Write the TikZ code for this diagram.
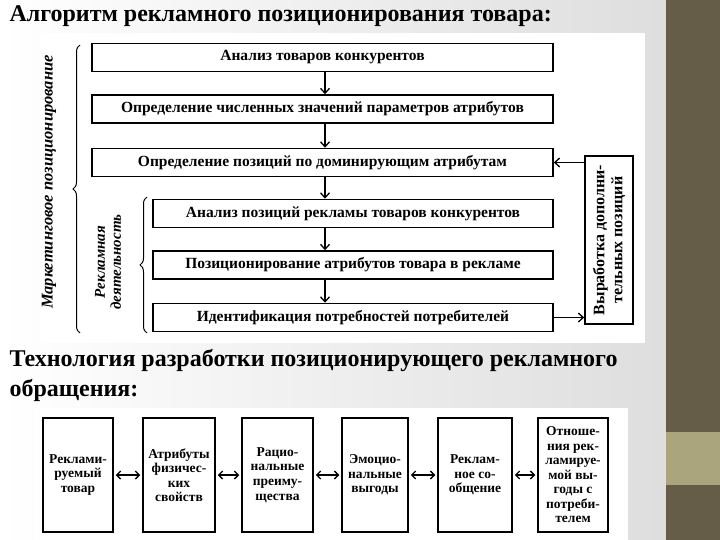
\documentclass[tikz,border=0pt]{standalone}
\usepackage{fontspec}
\setmainfont{Liberation Serif}
\usetikzlibrary{arrows.meta,positioning,decorations.pathreplacing}
\definecolor{olive}{RGB}{101,93,72}
\definecolor{khaki}{RGB}{170,165,124}

\begin{document}
\begin{tikzpicture}[x=1pt,y=-1pt,
  stepbox/.style={draw,line width=1.5pt,fill=white,minimum height=28pt,inner sep=2pt,
              font=\fontsize{15.5}{17}\selectfont\bfseries},
  cellbox/.style={draw,line width=1.5pt,fill=white,minimum height=114pt,inner sep=1pt,
              align=center,font=\fontsize{13.5}{14.5}\selectfont\bfseries},
  arr/.style={-{Straight Barb[length=5pt,width=9pt]},line width=1.3pt},
  darr/.style={{Straight Barb[length=4pt,width=8pt]}-{Straight Barb[length=4pt,width=8pt]},
              line width=1.3pt,shorten <=2pt,shorten >=2pt},
  brc/.style={decorate,decoration={brace,amplitude=7pt},line width=1pt},
  head/.style={anchor=west,font=\fontsize{24}{30}\selectfont\bfseries,align=left}]
  % background
  \shade[left color=white,right color=black!13] (0,0) rectangle (666,540);
  \fill[olive] (666,0) rectangle (720,540);
  \fill[khaki] (666,432) rectangle (720,485);
  \fill[white] (40,33) rectangle (645,343);
  \fill[white] (35,408) rectangle (628,540);
  \useasboundingbox (0,0) rectangle (720,540);

  % headings
  \node[head] (t1) at (6,16) {Алгоритм рекламного позиционирования товара:};
  \node[head] (t2) at (6,375) {Технология разработки позиционирующего рекламного\\обращения:};

  % algorithm steps
  \coordinate (ax) at (325,0);
  \node[stepbox,minimum width=461pt] (b1) at (322.5,57.5) {Анализ товаров конкурентов};
  \node[stepbox,minimum width=461pt] (b2) at (322.5,109) {Определение численных значений параметров атрибутов};
  \node[stepbox,minimum width=461pt] (b3) at (322.5,162.5) {Определение позиций по доминирующим атрибутам};
  \node[stepbox,minimum width=400pt] (b4) at (353,213.5) {Анализ позиций рекламы товаров конкурентов};
  \node[stepbox,minimum width=400pt] (b5) at (353,265) {Позиционирование атрибутов товара в рекламе};
  \node[stepbox,minimum width=400pt] (b6) at (353,317.5) {Идентификация потребностей потребителей};
  \node[draw,line width=1.5pt,fill=white,minimum width=168pt,minimum height=48pt,
        rotate=90,align=center,inner sep=1pt,font=\fontsize{16}{18}\selectfont\bfseries]
        (side) at (609,240) {Выработка дополни-\\тельных позиций};

  \draw[arr] (b1.south -| ax) -- (b2.north -| ax);
  \draw[arr] (b2.south -| ax) -- (b3.north -| ax);
  \draw[arr] (b3.south -| ax) -- (b4.north -| ax);
  \draw[arr] (b4.south -| ax) -- (b5.north -| ax);
  \draw[arr] (b5.south -| ax) -- (b6.north -| ax);
  \draw[arr] (side.north |- b3.east) -- (b3.east);
  \draw[arr] (b6.east) -- (side.north |- b6.east);

  % braces
  \coordinate (o1) at (80,333);
  \coordinate (o2) at (80,45);
  \coordinate (i1) at (147,333);
  \coordinate (i2) at (147,197);
  \draw[brc] (o1) -- (o2);
  \draw[brc] (i1) -- (i2);
  \node[rotate=90,font=\fontsize{16.5}{18}\selectfont\bfseries\itshape] (mk) at (49,182)
        {Маркетинговое позиционирование};
  \node[rotate=90,align=center,font=\fontsize{15}{16}\selectfont\bfseries\itshape] (rd) at (108,262)
        {Рекламная\\деятельность};

  % technology chain
  \node[cellbox,minimum width=70pt] (p1) at (78,475) {Реклами-\\руемый\\товар};
  \node[cellbox,minimum width=72pt] (p2) at (179,475) {Атрибуты\\физичес-\\ких\\свойств};
  \node[cellbox,minimum width=71pt] (p3) at (277.5,475) {Рацио-\\нальные\\преиму-\\щества};
  \node[cellbox,minimum width=66pt] (p4) at (375,475) {Эмоцио-\\нальные\\выгоды};
  \node[cellbox,minimum width=74pt] (p5) at (475,475) {Реклам-\\ное со-\\общение};
  \node[cellbox,minimum width=70pt] (p6) at (573,475)
        {Отноше-\\ния рек-\\ламируе-\\мой вы-\\годы с\\потреби-\\телем};
  \foreach \a/\b in {p1/p2,p2/p3,p3/p4,p4/p5,p5/p6}
    \draw[darr] (\a.east) -- (\b.west);
\end{tikzpicture}
\end{document}
